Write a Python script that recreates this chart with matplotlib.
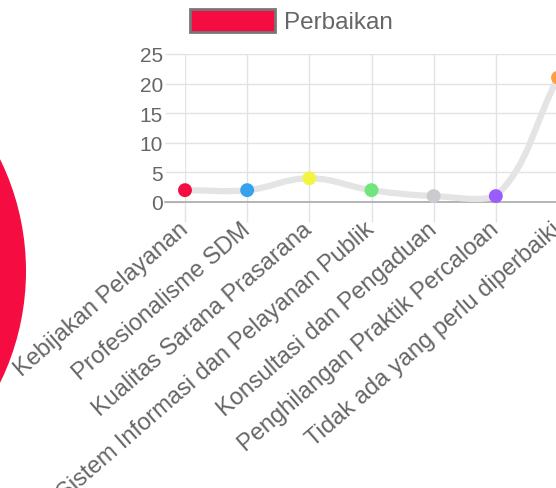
import matplotlib
matplotlib.use("Agg")
import matplotlib.pyplot as plt
import numpy as np
from matplotlib.path import Path
from matplotlib.patches import PathPatch, Circle, Patch

plt.rcParams['font.family'] = ['Liberation Sans', 'DejaVu Sans']

# data
categories = ["Kebijakan Pelayanan", "Profesionalisme SDM", "Kualitas Sarana Prasarana",
              "Sistem Informasi dan Pelayanan Publik", "Konsultasi dan Pengaduan",
              "Penghilangan Praktik Percaloan", "Tidak ada yang perlu diperbaiki"]
values = [2, 2, 4, 2, 1, 1, 21]
point_colors = ["#f50c40", "#36a2eb", "#f4f542", "#6fe57c", "#c9cbcf", "#9a5cff", "#ff9f40"]
yticks = [0, 5, 10, 15, 20, 25]
series_name = "Perbaikan"

W, H = 556, 489
fig = plt.figure(figsize=(W / 100, H / 100), dpi=100)

# part of a neighbouring pie chart, cut off at the left edge
bg = fig.add_axes([0, 0, 1, 1], zorder=0)
bg.set_xlim(0, W)
bg.set_ylim(H, 0)
bg.axis('off')
bg.add_patch(Circle((-228, 272), 254, color="#f50c40", lw=0))

# line chart area in pixels
x0, x1, ytop, ybot = 185, 558, 55, 203
ax = fig.add_axes([x0 / W, 1 - ybot / H, (x1 - x0) / W, (ybot - ytop) / H], zorder=1)
ax.patch.set_alpha(0)
ax.set_xlim(0, len(categories) - 1)
ax.set_ylim(0, 25)

x = np.arange(len(values))

# smooth line like chart.js (tension 0.4), control points worked out in pixels
fig.canvas.draw()
pts = ax.transData.transform(np.column_stack([x, values]))
t = 0.4
n = len(pts)
cp_prev = pts.copy()
cp_next = pts.copy()
for i in range(n):
    p0 = pts[max(i - 1, 0)]
    p1 = pts[i]
    p2 = pts[min(i + 1, n - 1)]
    d01 = np.hypot(*(p1 - p0))
    d12 = np.hypot(*(p2 - p1))
    tot = d01 + d12
    s01 = d01 / tot if tot else 0
    s12 = d12 / tot if tot else 0
    cp_prev[i] = p1 - t * s01 * (p2 - p0)
    cp_next[i] = p1 + t * s12 * (p2 - p0)
lo = ax.transData.transform((0, 0))[1]
hi = ax.transData.transform((0, 25))[1]
cp_prev[:, 1] = np.clip(cp_prev[:, 1], lo, hi)
cp_next[:, 1] = np.clip(cp_next[:, 1], lo, hi)
inv = ax.transData.inverted()
verts = [tuple(inv.transform(pts[0]))]
codes = [Path.MOVETO]
for i in range(n - 1):
    verts += [tuple(inv.transform(cp_next[i])), tuple(inv.transform(cp_prev[i + 1])),
              tuple(inv.transform(pts[i + 1]))]
    codes += [Path.CURVE4] * 3
ax.add_patch(PathPatch(Path(verts, codes), fill=False, edgecolor="#e4e4e4", lw=4.5,
                       capstyle='round', zorder=3))

ax.scatter(x, values, s=100, c=point_colors, zorder=4, clip_on=False, linewidths=0)

# axes styling
ax.set_xticks(x)
ax.set_xticklabels(categories)
ax.set_yticks(yticks)
ax.grid(True, color="#e3e3e3", lw=1)
ax.set_axisbelow(True)
for s in ax.spines.values():
    s.set_visible(False)
ax.axhline(0, xmin=-20 / (x1 - x0), xmax=1, color="#a8a8a8", lw=1.2, clip_on=False, zorder=2)
ax.tick_params(axis='both', length=14.4, width=1, color="#e3e3e3", labelcolor="#666666")
ax.tick_params(axis='y', labelsize=15, pad=1.5)
ax.tick_params(axis='x', labelsize=17, pad=3)
plt.setp(ax.get_xticklabels(), rotation=41, ha='right', va='center', rotation_mode='anchor')

handle = Patch(facecolor="#f50c40", edgecolor="#777777", lw=2)
fig.legend([handle], [series_name], loc='center left', bbox_to_anchor=(190 / W, 1 - 22 / H),
           frameon=False, fontsize=17.5, labelcolor="#666666", handlelength=3.5,
           handleheight=1.1, handletextpad=0.35, borderpad=0, borderaxespad=0)

fig.savefig("out.png", dpi=100)
